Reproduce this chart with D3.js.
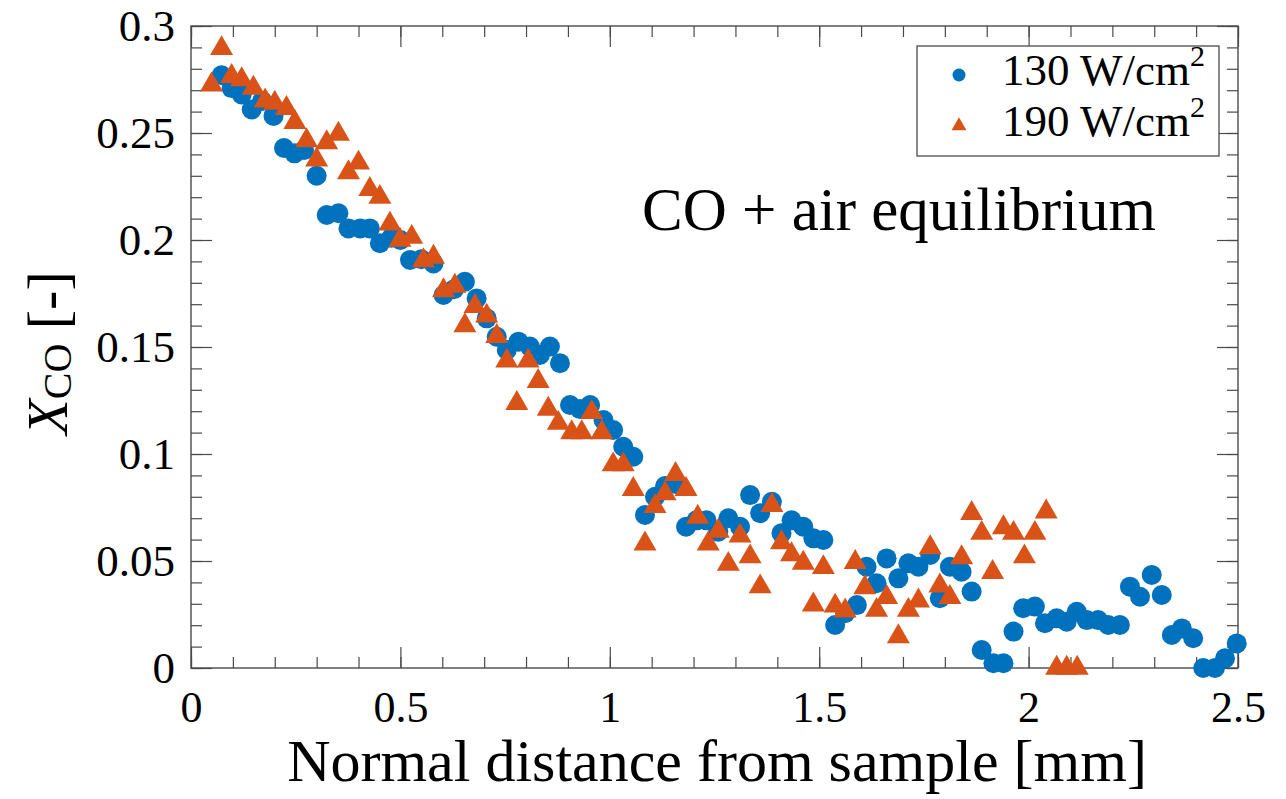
<!DOCTYPE html>
<html>
<head>
<meta charset="utf-8">
<script src="https://cdn.jsdelivr.net/npm/d3@7"></script>
<style>
  body { margin: 0; background: #fff; }
  svg { display: block; }
  text { font-family: "Liberation Serif", "DejaVu Serif", "Times New Roman", serif; fill: #000; }
</style>
</head>
<body>
<svg id="chart" width="1286" height="799"></svg>
<script>
// CO mole fraction profiles versus normal distance from the sample
const blueX = [0.073,0.097,0.121,0.145,0.170,0.197,0.222,0.247,0.270,0.300,
  0.324,0.352,0.376,0.404,0.427,0.451,0.478,0.500,0.523,0.550,
  0.579,0.603,0.628,0.654,0.682,0.706,0.730,0.754,0.782,0.809,
  0.833,0.857,0.881,0.905,0.929,0.953,0.985,1.008,1.032,1.056,
  1.084,1.108,1.132,1.157,1.182,1.207,1.231,1.259,1.283,1.311,
  1.335,1.359,1.387,1.410,1.434,1.462,1.486,1.510,1.538,1.562,
  1.590,1.613,1.637,1.661,1.689,1.713,1.737,1.765,1.788,1.812,
  1.840,1.864,1.888,1.916,1.940,1.964,1.987,2.015,2.039,2.067,
  2.091,2.115,2.139,2.166,2.190,2.218,2.242,2.266,2.294,2.318,
  2.342,2.366,2.393,2.417,2.445,2.469,2.497];
const blueY = [0.277,0.271,0.268,0.261,0.265,0.258,0.243,0.2405,0.242,0.230,
  0.2117,0.2125,0.2054,0.2054,0.2054,0.1985,0.201,0.200,0.1907,0.191,
  0.189,0.1743,0.177,0.1805,0.1727,0.1634,0.1548,0.1486,0.1525,0.1502,
  0.1463,0.1502,0.1424,0.1229,0.121,0.1229,0.1159,0.1112,0.1034,0.0987,
  0.0715,0.080,0.085,0.086,0.066,0.069,0.069,0.0637,0.070,0.066,
  0.0808,0.0723,0.0777,0.063,0.069,0.066,0.0606,0.0598,0.0201,0.0256,
  0.0294,0.0473,0.0396,0.0512,0.0419,0.0489,0.0473,0.0528,0.0326,0.0473,
  0.045,0.0357,0.0084,0.0022,0.0022,0.017,0.0279,0.0287,0.0209,0.0232,
  0.0216,0.0263,0.0224,0.0224,0.0201,0.0201,0.038,0.0333,0.0435,0.0341,
  0.0154,0.0185,0.0139,0,0,0.0045,0.0115];

const orangeX = [0.049,0.073,0.097,0.121,0.149,0.177,0.200,0.228,0.248,0.276,
  0.300,0.324,0.352,0.376,0.400,0.427,0.451,0.475,0.499,0.527,
  0.555,0.579,0.603,0.630,0.654,0.678,0.706,0.730,0.754,0.778,
  0.805,0.829,0.853,0.877,0.909,0.933,0.957,0.981,1.008,1.032,
  1.056,1.084,1.108,1.132,1.157,1.182,1.210,1.235,1.259,1.283,
  1.311,1.335,1.359,1.387,1.410,1.434,1.462,1.486,1.510,1.538,
  1.562,1.586,1.609,1.637,1.661,1.689,1.713,1.737,1.765,1.788,
  1.812,1.840,1.864,1.888,1.914,1.940,1.964,1.990,2.015,2.042,
  2.067,2.091,2.116];
const orangeY = [0.2725,0.2895,0.2765,0.275,0.271,0.265,0.264,0.2615,0.255,0.2465,
  0.2375,0.2455,0.2495,0.2315,0.236,0.2237,0.220,0.2075,0.200,0.2013,
  0.1904,0.192,0.1764,0.1785,0.160,0.169,0.1645,0.155,0.1435,0.1237,
  0.1435,0.134,0.121,0.1144,0.110,0.110,0.1194,0.110,0.095,0.095,
  0.0835,0.058,0.0755,0.0815,0.0905,0.0835,0.0705,0.058,0.064,0.0485,
  0.0617,0.052,0.038,0.076,0.0586,0.053,0.049,0.0295,0.047,0.029,
  0.0267,0.0494,0.0376,0.027,0.033,0.0147,0.027,0.0314,0.0563,0.0384,
  0.033,0.0516,0.0723,0.063,0.0447,0.0656,0.063,0.052,0.063,0.073,
  0,0,0];

const xTicks = [0, 0.5, 1, 1.5, 2, 2.5];
const xTickLabels = ["0", "0.5", "1", "1.5", "2", "2.5"];
const yTicks = [0, 0.05, 0.1, 0.15, 0.2, 0.25, 0.3];
const yTickLabels = ["0", "0.05", "0.1", "0.15", "0.2", "0.25", "0.3"];
const seriesNames = ["130 W/cm", "190 W/cm"];
const seriesColors = ["#0072BD", "#D95319"];

const FONT = "'Liberation Serif', 'DejaVu Serif', 'Times New Roman', serif";
const plot = { left: 191, right: 1238, top: 26, bottom: 668 };
const axisColor = "#4a4a4a";

const svg = d3.select("#chart");
const x = d3.scaleLinear().domain([0, 2.5]).range([plot.left, plot.right]);
const y = d3.scaleLinear().domain([0, 0.3]).range([plot.bottom, plot.top]);

const xMinor = d3.range(0, 2.5001, 0.1).map(v => +v.toFixed(2));
const yMinor = d3.range(0, 0.3001, 0.01).map(v => +v.toFixed(3));

const MAJOR = 21, MINOR = 11;

function styleAxis(g) {
  g.attr("font-family", FONT);
  g.select(".domain").remove();
  g.selectAll("line").attr("stroke", axisColor).attr("stroke-width", 1.2);
}

// Minor ticks on all four sides (pointing inward)
svg.append("g").attr("transform", `translate(0,${plot.bottom})`)
  .call(d3.axisBottom(x).tickValues(xMinor).tickSize(-MINOR).tickFormat(""))
  .call(styleAxis);
svg.append("g").attr("transform", `translate(0,${plot.top})`)
  .call(d3.axisTop(x).tickValues(xMinor).tickSize(-MINOR).tickFormat(""))
  .call(styleAxis);
svg.append("g").attr("transform", `translate(${plot.left},0)`)
  .call(d3.axisLeft(y).tickValues(yMinor).tickSize(-MINOR).tickFormat(""))
  .call(styleAxis);
svg.append("g").attr("transform", `translate(${plot.right},0)`)
  .call(d3.axisRight(y).tickValues(yMinor).tickSize(-MINOR).tickFormat(""))
  .call(styleAxis);

// Major ticks
const xAxisBottom = svg.append("g").attr("transform", `translate(0,${plot.bottom})`)
  .call(d3.axisBottom(x).tickValues(xTicks).tickSize(-MAJOR)
    .tickFormat((d, i) => xTickLabels[i]))
  .call(styleAxis);
xAxisBottom.selectAll("text")
  .attr("y", 54).attr("dy", 0)
  .style("font-family", FONT).style("font-size", "44px").attr("fill", "#000");

svg.append("g").attr("transform", `translate(0,${plot.top})`)
  .call(d3.axisTop(x).tickValues(xTicks).tickSize(-MAJOR).tickFormat(""))
  .call(styleAxis);

const yAxisLeft = svg.append("g").attr("transform", `translate(${plot.left},0)`)
  .call(d3.axisLeft(y).tickValues(yTicks).tickSize(-MAJOR)
    .tickFormat((d, i) => yTickLabels[i]))
  .call(styleAxis);
yAxisLeft.selectAll("text")
  .attr("x", -16).attr("dy", "0.33em")
  .style("font-family", FONT).style("font-size", "45px").attr("fill", "#000");

svg.append("g").attr("transform", `translate(${plot.right},0)`)
  .call(d3.axisRight(y).tickValues(yTicks).tickSize(-MAJOR).tickFormat(""))
  .call(styleAxis);

// Axes box
svg.append("rect")
  .attr("x", plot.left).attr("y", plot.top)
  .attr("width", plot.right - plot.left).attr("height", plot.bottom - plot.top)
  .attr("fill", "none").attr("stroke", axisColor).attr("stroke-width", 1.4);

// Data markers
const circleSym = d3.symbol().type(d3.symbolCircle).size(Math.PI * 10 * 10);
const triSym = d3.symbol().type(d3.symbolTriangle).size(229);

svg.append("g").selectAll("path")
  .data(d3.zip(blueX, blueY))
  .join("path")
  .attr("transform", d => `translate(${x(d[0])},${y(d[1])})`)
  .attr("d", circleSym())
  .attr("fill", seriesColors[0]);

svg.append("g").selectAll("path")
  .data(d3.zip(orangeX, orangeY))
  .join("path")
  .attr("transform", d => `translate(${x(d[0])},${y(d[1])})`)
  .attr("d", triSym())
  .attr("fill", seriesColors[1]);

// Annotation
svg.append("text")
  .attr("x", 899).attr("y", 230)
  .attr("text-anchor", "middle")
  .style("font-family", FONT)
  .style("font-size", "61px")
  .text("CO + air equilibrium");

// Axis titles
svg.append("text")
  .attr("x", 717).attr("y", 781)
  .attr("text-anchor", "middle")
  .style("font-family", FONT)
  .style("font-size", "60px")
  .text("Normal distance from sample [mm]");

const yTitle = svg.append("text")
  .attr("transform", "translate(67,353) rotate(-90)")
  .attr("text-anchor", "middle")
  .style("font-family", FONT)
  .style("font-size", "58px");
yTitle.append("tspan").style("font-style", "italic").text("X");
yTitle.append("tspan").style("font-size", "40px").attr("dy", 4).text("CO");
yTitle.append("tspan").attr("dy", -4).text(" [-]");

// Legend
const legend = svg.append("g");
legend.append("rect")
  .attr("x", 917).attr("y", 46).attr("width", 302).attr("height", 110)
  .attr("fill", "#fff").attr("stroke", axisColor).attr("stroke-width", 1.3);

const legendSyms = [
  d3.symbol().type(d3.symbolCircle).size(Math.PI * 6.5 * 6.5),
  d3.symbol().type(d3.symbolTriangle).size(97)
];
seriesNames.forEach((name, i) => {
  const cy = 75 + i * 50;
  legend.append("path")
    .attr("transform", `translate(959,${cy + (i === 1 ? 1 : 0)})`)
    .attr("d", legendSyms[i]())
    .attr("fill", seriesColors[i]);
  const t = legend.append("text")
    .attr("x", 1002).attr("y", cy + 10 + i * 1)
    .style("font-family", FONT)
    .style("font-size", "45px");
  t.append("tspan").text(name);
  t.append("tspan").style("font-size", "30px").attr("dy", -19).text("2");
});
</script>
</body>
</html>
